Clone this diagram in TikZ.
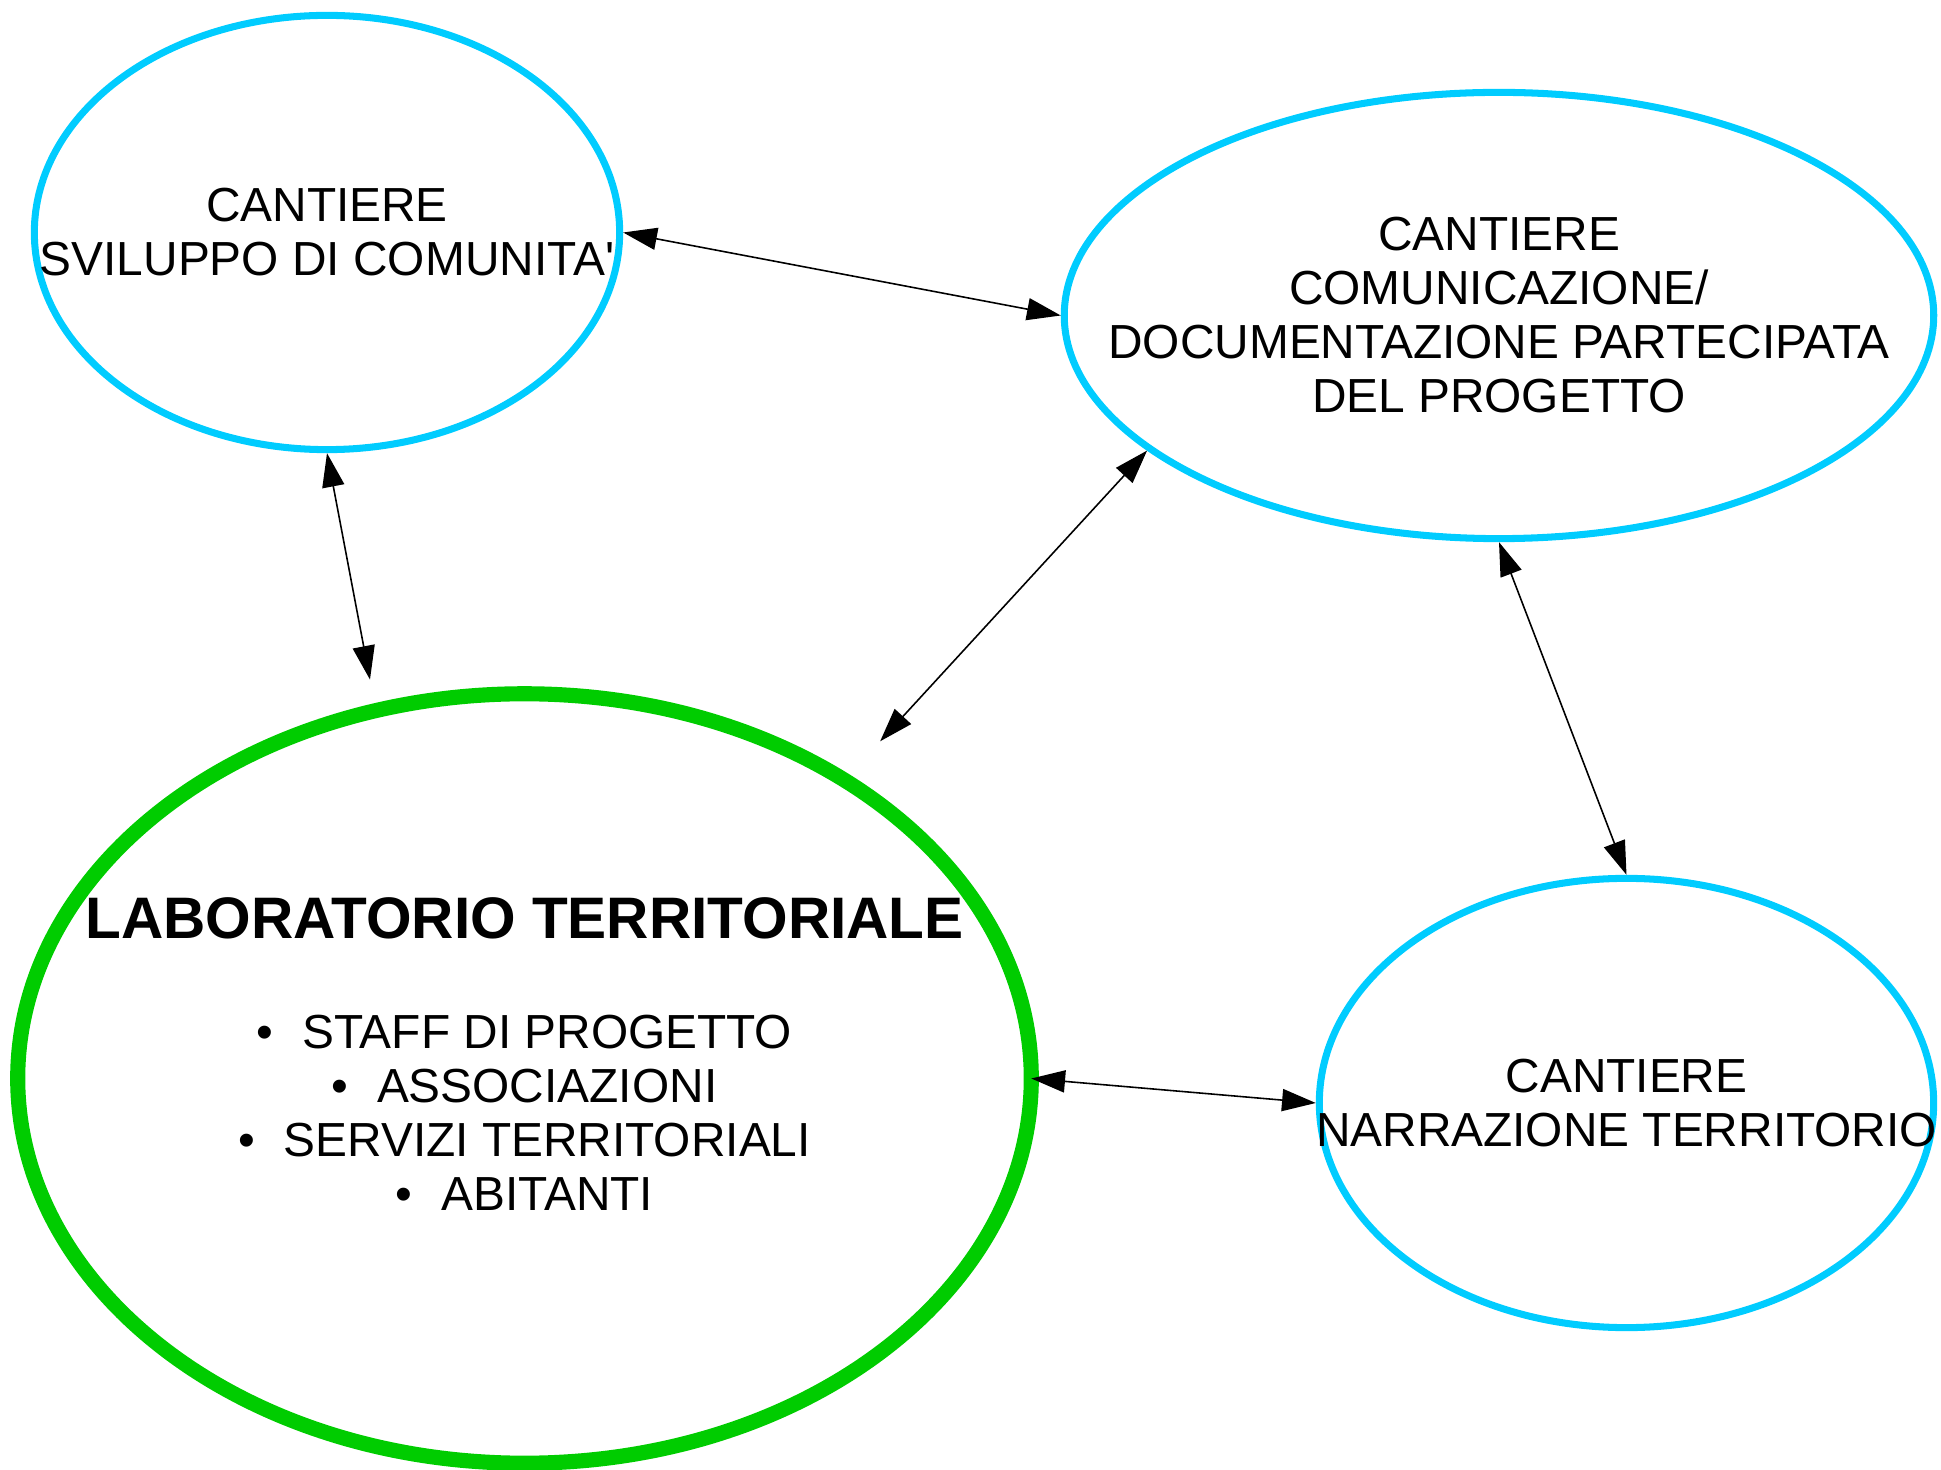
\documentclass[tikz,border=0pt]{standalone}
\usepackage{fontspec}
\setmainfont{Liberation Sans}
\usepackage{tikz}
\usetikzlibrary{shapes.geometric,arrows.meta}

\definecolor{cantblue}{HTML}{00CCFF}
\definecolor{labgreen}{HTML}{00CC00}

\tikzset{
  cantiere/.style={ellipse,draw=cantblue,line width=2pt},
  labor/.style={ellipse,draw=labgreen,line width=4.3pt,outer sep=0pt},
  testo/.style={align=center,font=\fontsize{13.6pt}{15.36pt}\selectfont},
  link/.style={{Triangle[length=9.6pt,width=6.3pt]}-{Triangle[length=9.6pt,width=6.3pt]},line width=0.45pt}
}

\begin{document}
\begin{tikzpicture}[x=0.01cm,y=-0.01cm]

\useasboundingbox (0,0) rectangle (1941,1470);

\node[cantiere,minimum width=5.85cm,minimum height=4.34cm] (svil) at (327,232.5) {};
\node[testo] (sviltxt) at (svil) {CANTIERE\\SVILUPPO DI COMUNITA\textquotesingle};

\node[cantiere,minimum width=8.69cm,minimum height=4.46cm] (comu) at (1499,315.5) {};
\node[testo] (comutxt) at (comu) {CANTIERE\\COMUNICAZIONE/\\DOCUMENTAZIONE PARTECIPATA\\DEL PROGETTO};

\node[cantiere,minimum width=6.14cm,minimum height=4.49cm] (narr) at (1626.5,1103) {};
\node[testo] (narrtxt) at (narr) {CANTIERE\\NARRAZIONE TERRITORIO};

% laboratorio
\node[labor,minimum width=10.13cm,minimum height=7.69cm] (lab) at (524.5,1078.5) {};
\node[testo] (labtxt) at (524.5,1054) {{\bfseries\fontsize{16.65pt}{15.36pt}\selectfont LABORATORIO TERRITORIALE}\\[15.9pt]
  •\hspace{0.6em}STAFF DI PROGETTO\\
  •\hspace{0.6em}ASSOCIAZIONI\\
  •\hspace{0.6em}SERVIZI TERRITORIALI\\
  •\hspace{0.6em}ABITANTI};

\draw[link] (svil.east) -- (comu.west);
\draw[link,shorten >=9pt] (svil.south) -- (lab.112);
\draw[link,shorten >=15pt] (comu.201) -- (lab.43);
\draw[link] (comu.south) -- (narr.north);
\draw[link] (lab.east) -- (narr.west);

\end{tikzpicture}
\end{document}
